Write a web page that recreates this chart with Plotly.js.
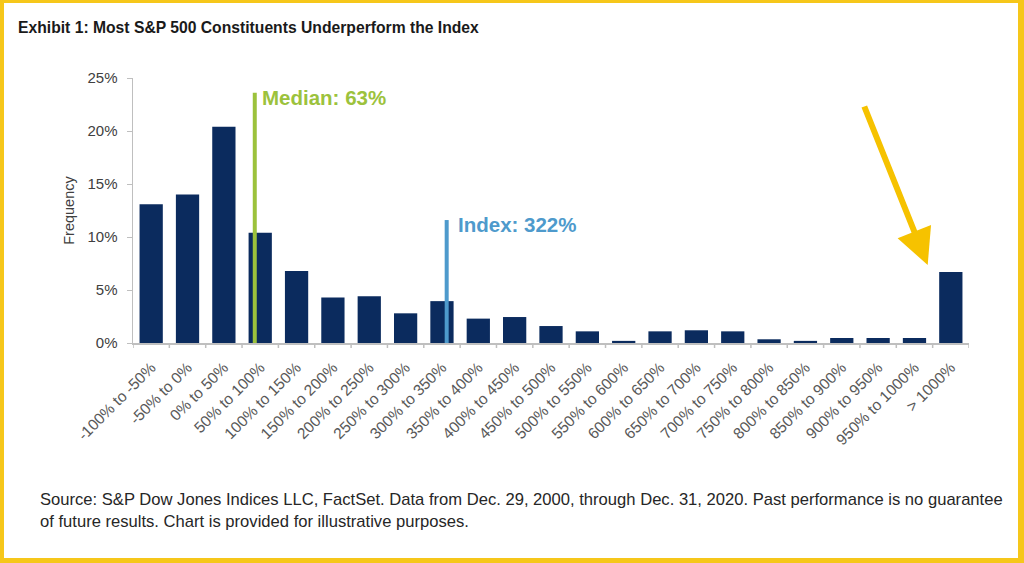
<!DOCTYPE html>
<html>
<head>
<meta charset="utf-8">
<script src="https://cdn.plot.ly/plotly-3.0.1.min.js"></script>
<style>
  html, body { margin: 0; padding: 0; background: #fff; }
  #wrap { position: relative; width: 1024px; height: 563px; }
  #chart { width: 1024px; height: 563px; }
  #frame { position: absolute; left: 0; top: 0; width: 1024px; height: 563px; box-sizing: border-box;
           border-style: solid; border-color: #F6C71A; border-width: 3px 6px 5px 4px; pointer-events: none; }
</style>
</head>
<body>
<div id="wrap"><div id="chart"></div><div id="frame"></div></div>
<script>
const categories = ["-100% to -50%", "-50% to 0%", "0% to 50%", "50% to 100%", "100% to 150%",
  "150% to 200%", "200% to 250%", "250% to 300%", "300% to 350%", "350% to 400%", "400% to 450%",
  "450% to 500%", "500% to 550%", "550% to 600%", "600% to 650%", "650% to 700%", "700% to 750%",
  "750% to 800%", "800% to 850%", "850% to 900%", "900% to 950%", "950% to 1000%", "> 1000%"];
const frequency = [13.1, 14.0, 20.4, 10.4, 6.8, 4.3, 4.4, 2.8, 3.95, 2.3, 2.45, 1.6, 1.1, 0.2, 1.1,
  1.2, 1.1, 0.35, 0.2, 0.47, 0.47, 0.47, 6.7];
const yTicks = [0, 5, 10, 15, 20, 25];
const yTickLabels = ["0%", "5%", "10%", "15%", "20%", "25%"];
// reference lines: position (in category units) and height (frequency %)
const medianLine = {label: "Median: 63%", x: 2.85, top: 23.6};
const indexLine = {label: "Index: 322%", x: 8.13, top: 11.6};

const NAVY = "#0B2B5E";
const GREEN = "#9CC23C";
const BLUE = "#4E9ACC";
const FONT = "Liberation Sans, Arial, sans-serif";

const traces = [{
  type: "bar",
  x: categories.map((c, i) => i),
  y: frequency,
  marker: {color: NAVY},
  hoverinfo: "x+y",
  showlegend: false
}];

const layout = {
  width: 1024, height: 563,
  margin: {l: 133, r: 55, t: 78, b: 220},
  paper_bgcolor: "#ffffff",
  plot_bgcolor: "#ffffff",
  bargap: 0.36,
  font: {family: FONT, color: "#404040"},
  title: {
    text: "<b>Exhibit 1: Most S&P 500 Constituents Underperform the Index</b>",
    x: 18 / 1024, xanchor: "left", xref: "container",
    y: 1 - 28 / 563, yanchor: "middle", yref: "container",
    font: {size: 15.7, color: "#1a1a1a", family: FONT}
  },
  xaxis: {
    type: "linear",
    range: [-0.5, categories.length - 0.5],
    tickmode: "array",
    tickvals: categories.map((c, i) => i),
    ticktext: categories,
    tickangle: -45,
    ticks: "",
    ticklabelstandoff: 8,
    showgrid: false,
    zeroline: false,
    showline: true,
    linecolor: "#BFBFBF",
    linewidth: 1.5,
    tickfont: {size: 15.5, color: "#595959"},
    automargin: false,
    fixedrange: true
  },
  yaxis: {
    range: [0, 25],
    tickmode: "array",
    tickvals: yTicks,
    ticktext: yTickLabels,
    ticks: "outside",
    ticklen: 5,
    tickcolor: "#BFBFBF",
    ticklabelstandoff: 6,
    showgrid: false,
    zeroline: false,
    showline: true,
    linecolor: "#BFBFBF",
    linewidth: 1.5,
    tickfont: {size: 15, color: "#404040"},
    title: {text: "Frequency", font: {size: 14.5, color: "#404040"}, standoff: 9},
    automargin: false,
    fixedrange: true
  },
  shapes: [],
  annotations: []
};

// category boundary ticks on x axis
for (let i = 0; i <= categories.length; i++) {
  layout.shapes.push({
    type: "line", xref: "x", yref: "paper",
    x0: i - 0.5, x1: i - 0.5, y0: 0, y1: -5 / 265,
    line: {color: "#BFBFBF", width: 1.5}
  });
}

// median and index lines
[[medianLine, GREEN], [indexLine, BLUE]].forEach(([ln, col]) => {
  layout.shapes.push({
    type: "line", xref: "x", yref: "y",
    x0: ln.x, x1: ln.x, y0: 0, y1: ln.top,
    line: {color: col, width: 4}
  });
});
layout.annotations.push({
  xref: "x", yref: "y", x: medianLine.x, y: medianLine.top - 0.4,
  xanchor: "left", yanchor: "middle", xshift: 5, showarrow: false,
  text: "<b>" + medianLine.label + "</b>",
  font: {size: 20.5, color: GREEN, family: FONT}
});
layout.annotations.push({
  xref: "x", yref: "y", x: indexLine.x, y: indexLine.top - 0.45,
  xanchor: "left", yanchor: "middle", xshift: 9, showarrow: false,
  text: "<b>" + indexLine.label + "</b>",
  font: {size: 20.5, color: BLUE, family: FONT}
});

// yellow arrow pointing to the "> 1000%" bar
layout.annotations.push({
  xref: "paper", yref: "paper",
  x: (927.7 - 133) / 836, y: (343 - 265) / 265,
  ax: -64, ay: -160, axref: "pixel", ayref: "pixel",
  showarrow: true, arrowhead: 2, arrowsize: 1.2, arrowwidth: 6,
  arrowcolor: "#F6C200", text: ""
});

// footer source note
layout.annotations.push({
  xref: "paper", yref: "paper",
  x: -95 / 836, y: -(510 - 343) / 265,
  xanchor: "left", yanchor: "middle", align: "left", showarrow: false,
  text: "Source: S&P Dow Jones Indices LLC, FactSet. Data from Dec. 29, 2000, through Dec. 31, 2020. Past performance is no guarantee<br>of future results. Chart is provided for illustrative purposes.",
  font: {size: 16.6, color: "#262626", family: FONT}
});

Plotly.newPlot("chart", traces, layout, {displayModeBar: false, staticPlot: true});
</script>
</body>
</html>
